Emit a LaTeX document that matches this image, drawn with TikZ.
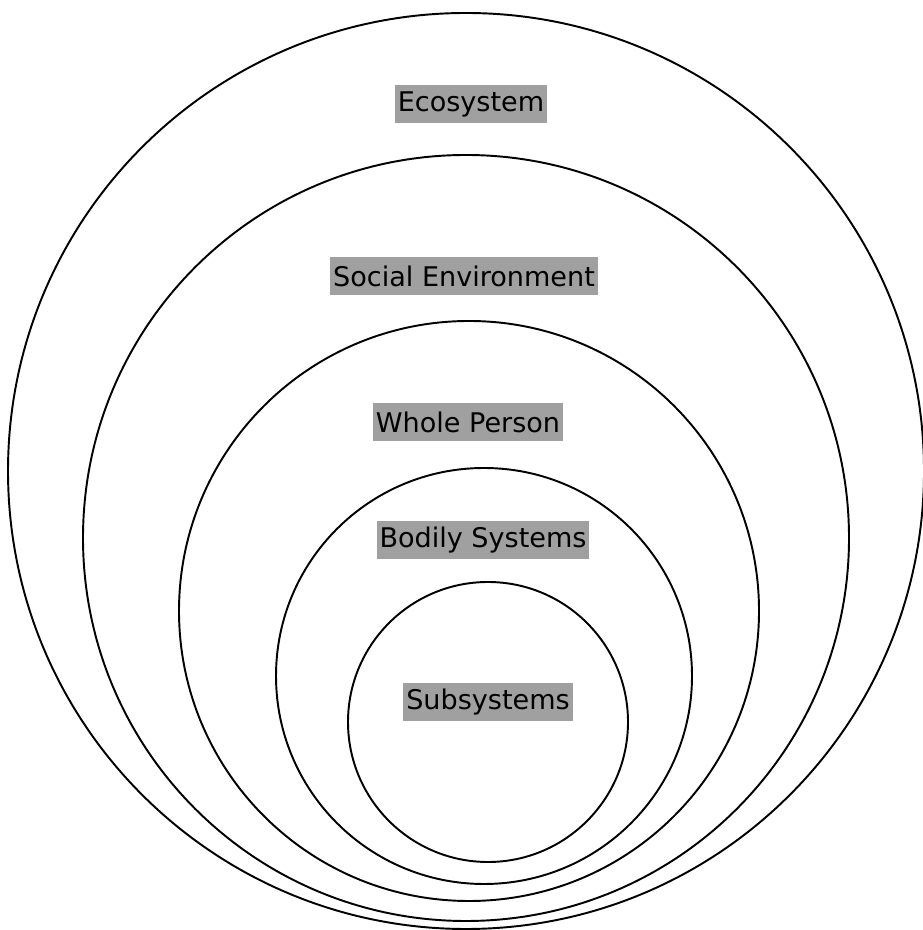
\documentclass[tikz,border=0pt]{standalone}
\usepackage{fontspec}
\setmainfont{DejaVu Sans}
\usepackage{tikz}
\usetikzlibrary{positioning}
\usepackage{xcolor}
\definecolor{labelgray}{RGB}{160,160,160}

\begin{document}
\begin{tikzpicture}[ring/.style={line width=1.1pt}, ringlabel/.style={fill=labelgray, inner xsep=0.06cm, inner ysep=0.04cm, minimum height=0.76cm, font=\fontsize{15.4}{18}\selectfont}]
  \useasboundingbox (0,0) rectangle (18.44,18.6);
  \foreach \cx/\cy/\r in {9.32/9.18/9.16, 9.32/7.84/7.66, 9.38/6.38/5.80, 9.68/5.08/4.16, 9.76/4.16/2.80} {
    \draw[ring] (\cx, \cy) circle (\r);
  }
  \node[ringlabel] (eco) at (9.42, 16.52) {Ecosystem};
  \node[ringlabel] (social) at (9.28, 13.08) {Social Environment};
  \node[ringlabel] (whole) at (9.36, 10.16) {Whole Person};
  \node[ringlabel] (bodily) at (9.66, 7.80) {Bodily Systems};
  \node[ringlabel] (sub) at (9.76, 4.56) {Subsystems};
\end{tikzpicture}
\end{document}
